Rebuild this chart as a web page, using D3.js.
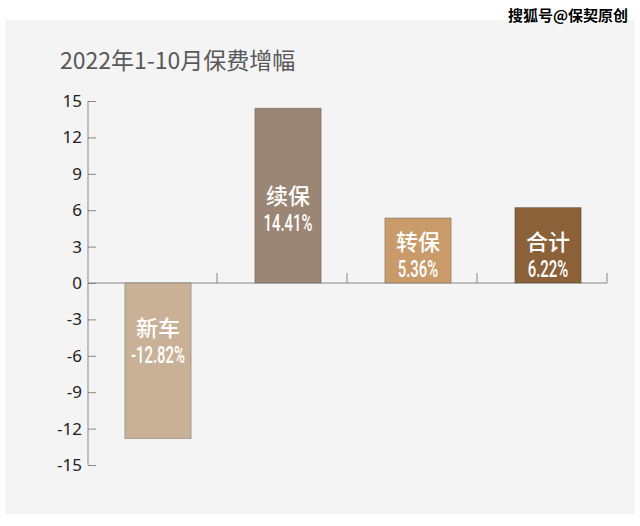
<!DOCTYPE html>
<html>
<head>
<meta charset="utf-8">
<script src="https://cdn.jsdelivr.net/npm/d3@7"></script>
<style>
  html, body { margin: 0; padding: 0; background: #ffffff; }
  svg { display: block; }
</style>
</head>
<body>
<svg width="640" height="526"></svg>
<script>
// data
const categories = ['新车', '续保', '转保', '合计'];
const growth = [-12.82, 14.41, 5.36, 6.22];
const barColors = ['#c9b198', '#9b8574', '#c99b6b', '#8b6139'];
const yTicks = [15, 12, 9, 6, 3, 0, -3, -6, -9, -12, -15];

const svg = d3.select('svg');
const width = +svg.attr('width');
const height = +svg.attr('height');

// grey card behind the chart
svg.append('rect')
    .attr('x', 5)
    .attr('y', 20)
    .attr('width', 630)
    .attr('height', 494)
    .attr('fill', '#f4f4f4');

// watermark (black with a white halo)
svg.append('text')
    .attr('x', 628)
    .attr('y', 21)
    .attr('text-anchor', 'end')
    .attr('font-family', '"Noto Sans CJK SC", sans-serif')
    .attr('font-size', 15)
    .attr('font-weight', 700)
    .attr('fill', '#000')
    .attr('stroke', '#fff')
    .attr('stroke-width', 2)
    .attr('paint-order', 'stroke')
    .text('搜狐号@保契原创');

// title
svg.append('text')
    .attr('x', 60)
    .attr('y', 69)
    .attr('font-family', '"Noto Sans CJK SC", sans-serif')
    .attr('font-size', 23)
    .attr('fill', '#595959')
    .text('2022年1-10月保费增幅');

// scales
const y = d3.scaleLinear()
    .domain([-15, 15])
    .range([465, 101]);

// category bands (for the axis ticks)
const x = d3.scaleBand()
    .domain(categories)
    .range([87, 607]);

// bars sit a bit right of the band centre in the original
const xBar = d3.scaleBand()
    .domain(categories)
    .range([93, 613])
    .paddingInner(0.49)
    .paddingOuter(0.245);

// y axis, ticks pointing into the plot
const yAxis = d3.axisRight(y)
    .tickValues(yTicks)
    .tickSize(8)
    .tickFormat(d => d3.format('d')(d).replace('−', '-'));

const yAxisG = svg.append('g')
    .attr('transform', 'translate(88,0)')
    .call(yAxis);

yAxisG.select('.domain')
    .attr('stroke', '#888')
    .attr('d', `M0,${y(15)}V${y(-15)}`);
yAxisG.selectAll('.tick line')
    .attr('stroke', '#888');
yAxisG.selectAll('.tick text')
    .attr('x', -6)
    .attr('text-anchor', 'end')
    .attr('font-family', '"Noto Sans", sans-serif')
    .attr('font-size', 17)
    .attr('fill', '#222');

// x axis along zero, with short upward ticks at band edges
const xAxisG = svg.append('g');

xAxisG.append('line')
    .attr('x1', 88)
    .attr('x2', x.range()[1])
    .attr('y1', y(0))
    .attr('y2', y(0))
    .attr('stroke', '#888');

xAxisG.selectAll('.edge')
    .data(categories)
    .enter()
    .append('line')
        .attr('class', 'edge')
        .attr('x1', d => x(d) + x.bandwidth())
        .attr('x2', d => x(d) + x.bandwidth())
        .attr('y1', y(0))
        .attr('y2', y(0) - 10)
        .attr('stroke', '#888');

// bars
const bars = svg.append('g')
    .selectAll('g')
    .data(categories)
    .enter()
    .append('g');

bars.append('rect')
    .attr('x', d => xBar(d))
    .attr('width', xBar.bandwidth())
    .attr('y', (d, i) => y(Math.max(0, growth[i])))
    .attr('height', (d, i) => Math.abs(y(growth[i]) - y(0)))
    .attr('fill', (d, i) => barColors[i])
    .attr('stroke', 'rgba(0,0,0,0.22)')
    .attr('stroke-width', 1);

// labels inside the bars
const pctBase = v => v >= 0
    ? Math.min(y(v / 2) + 35, y(0) - 6)
    : y(0) + 80;

bars.append('text')
    .attr('x', d => xBar(d) + xBar.bandwidth() / 2)
    .attr('y', (d, i) => pctBase(growth[i]) - 27)
    .attr('text-anchor', 'middle')
    .attr('font-family', '"Noto Sans CJK SC", sans-serif')
    .attr('font-size', 22)
    .attr('font-weight', 500)
    .attr('fill', '#fff')
    .text(d => d);

bars.append('text')
    .attr('transform', (d, i) =>
        `translate(${xBar(d) + xBar.bandwidth() / 2},${pctBase(growth[i])}) scale(0.62,1)`)
    .attr('text-anchor', 'middle')
    .attr('font-family', 'Roboto, sans-serif')
    .attr('font-size', 24)
    .attr('font-weight', 500)
    .attr('fill', '#fff')
    .text((d, i) => growth[i].toFixed(2) + '%');
</script>
</body>
</html>
